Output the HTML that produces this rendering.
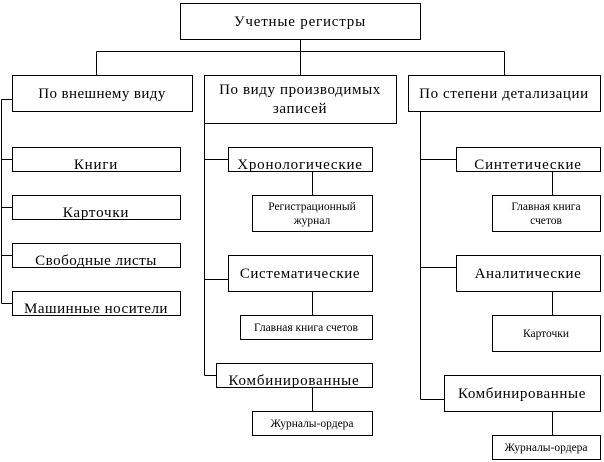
<!DOCTYPE html>
<html><head><meta charset="utf-8"><style>
html,body{margin:0;padding:0;background:#fff;}
svg{display:block;}
text{font-family:"Liberation Serif","Noto Serif CJK SC",serif;fill:#000;}
</style></head><body>
<svg width="604" height="462" viewBox="0 0 604 462" xmlns="http://www.w3.org/2000/svg">
<defs>
<clipPath id="c1"><rect x="12" y="147" width="168" height="24"/></clipPath>
<clipPath id="c2"><rect x="12" y="195" width="168" height="24"/></clipPath>
<clipPath id="c3"><rect x="12" y="243" width="168" height="24"/></clipPath>
<clipPath id="c4"><rect x="12" y="291" width="168" height="24"/></clipPath>
<clipPath id="c5"><rect x="228" y="147" width="144" height="24"/></clipPath>
<clipPath id="c6"><rect x="216" y="363" width="156" height="24"/></clipPath>
<clipPath id="c7"><rect x="456" y="147" width="144" height="24"/></clipPath>
</defs>
<g fill="none" stroke="#000" stroke-width="1" shape-rendering="crispEdges">
<rect x="180.5" y="3.5" width="240" height="36"/>
<path d="M300.5 39.5V51.5M96.5 51.5H504.5M96.5 51.5V75.5M300.5 51.5V75.5M504.5 51.5V75.5"/>
<rect x="12.5" y="75.5" width="180" height="36"/>
<rect x="204.5" y="75.5" width="192" height="48"/>
<rect x="408.5" y="75.5" width="192" height="36"/>
<path d="M1.5 99.5H12.5M1.5 99.5V303.5M1.5 159.5H12.5M1.5 207.5H12.5M1.5 255.5H12.5M1.5 303.5H12.5"/>
<rect x="12.5" y="147.5" width="168" height="24"/>
<rect x="12.5" y="195.5" width="168" height="24"/>
<rect x="12.5" y="243.5" width="168" height="24"/>
<rect x="12.5" y="291.5" width="168" height="24"/>
<path d="M204.5 123.5V375.5M204.5 159.5H228.5M204.5 279.5H228.5M204.5 375.5H216.5M312.5 171.5V195.5M312.5 291.5V315.5M312.5 387.5V411.5"/>
<rect x="228.5" y="147.5" width="144" height="24"/>
<rect x="252.5" y="195.5" width="120" height="36"/>
<rect x="228.5" y="255.5" width="144" height="36"/>
<rect x="240.5" y="315.5" width="132" height="24"/>
<rect x="216.5" y="363.5" width="156" height="24"/>
<rect x="252.5" y="411.5" width="120" height="24"/>
<path d="M420.5 111.5V399.5M420.5 159.5H456.5M420.5 267.5H456.5M420.5 399.5H444.5M552.5 171.5V195.5M552.5 291.5V315.5M552.5 411.5V435.5"/>
<rect x="456.5" y="147.5" width="144" height="24"/>
<rect x="492.5" y="195.5" width="108" height="36"/>
<rect x="456.5" y="255.5" width="144" height="36"/>
<rect x="492.5" y="315.5" width="108" height="36"/>
<rect x="444.5" y="375.5" width="156" height="36"/>
<rect x="492.5" y="435.5" width="108" height="24"/>
</g>
<g font-size="15" text-anchor="middle">
<text x="300" y="26" letter-spacing="0.8">Учетные регистры</text>
<text x="102" y="98" letter-spacing="0.4">По внешнему виду</text>
<text x="300" y="94" letter-spacing="0.6">По виду производимых</text>
<text x="300" y="113" letter-spacing="0.6">записей</text>
<text x="504" y="98" letter-spacing="0.6">По степени детализации</text>
<text x="96" y="169" clip-path="url(#c1)" letter-spacing="0.8">Книги</text>
<text x="96" y="217" clip-path="url(#c2)" letter-spacing="0.8">Карточки</text>
<text x="96" y="265" clip-path="url(#c3)" letter-spacing="0.5">Свободные листы</text>
<text x="96" y="313" clip-path="url(#c4)" letter-spacing="0.5">Машинные носители</text>
<text x="300" y="169" clip-path="url(#c5)" letter-spacing="0.8">Хронологические</text>
<text x="300" y="278" letter-spacing="0.6">Систематические</text>
<text x="294" y="385" clip-path="url(#c6)" letter-spacing="0.8">Комбинированные</text>
<text x="528" y="169" clip-path="url(#c7)" letter-spacing="0.8">Синтетические</text>
<text x="528" y="278" letter-spacing="0.6">Аналитические</text>
<text x="522" y="398" letter-spacing="0.6">Комбинированные</text>
</g>
<g font-size="11.5" text-anchor="middle">
<text x="312" y="210">Регистрационный</text>
<text x="312" y="224">журнал</text>
<text x="306" y="331">Главная книга счетов</text>
<text x="312" y="427">Журналы-ордера</text>
<text x="546" y="210">Главная книга</text>
<text x="546" y="224">счетов</text>
<text x="546" y="337">Карточки</text>
<text x="546" y="451">Журналы-ордера</text>
</g>
</svg>
</body></html>
